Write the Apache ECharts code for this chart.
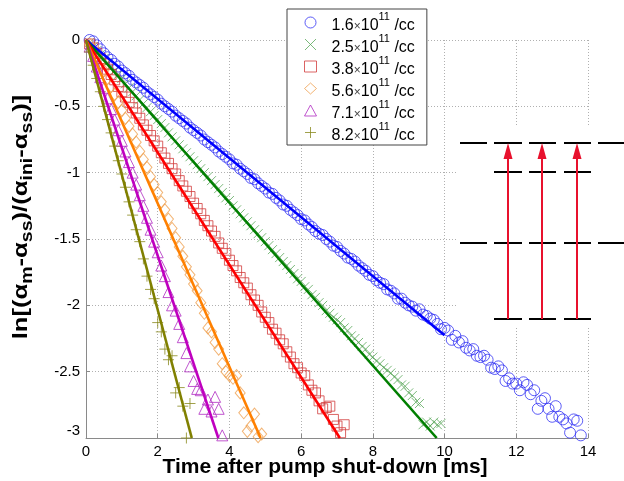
<!DOCTYPE html>
<html>
<head>
<meta charset="utf-8">
<script src="https://cdn.jsdelivr.net/npm/echarts@6/dist/echarts.min.js"></script>
<style>
  html, body { margin: 0; padding: 0; background: #ffffff; }
  #chart { width: 624px; height: 481px; }
</style>
</head>
<body>
<div id="chart"></div>
<script>
// Sampling times after pump shut-down [ms]
const timeMs = [
  0.1, 0.2, 0.3, 0.4, 0.5, 0.6, 0.7, 0.8, 0.9, 1.0,
  1.1, 1.2, 1.3, 1.4, 1.5, 1.6, 1.7, 1.8, 1.9, 2.0,
  2.1, 2.2, 2.3, 2.4, 2.5, 2.6, 2.7, 2.8, 2.9, 3.0,
  3.1, 3.2, 3.3, 3.4, 3.5, 3.6, 3.7, 3.8, 3.9, 4.0,
  4.1, 4.2, 4.3, 4.4, 4.5, 4.6, 4.7, 4.8, 4.9, 5.0,
  5.1, 5.2, 5.3, 5.4, 5.5, 5.6, 5.7, 5.8, 5.9, 6.0,
  6.1, 6.2, 6.3, 6.4, 6.5, 6.6, 6.7, 6.8, 6.9, 7.0,
  7.1, 7.2, 7.3, 7.4, 7.5, 7.6, 7.7, 7.8, 7.9, 8.0,
  8.1, 8.2, 8.3, 8.4, 8.5, 8.6, 8.7, 8.8, 8.9, 9.0,
  9.1, 9.2, 9.3, 9.4, 9.5, 9.6, 9.7, 9.8, 9.9, 10.0,
  10.1, 10.2, 10.3, 10.4, 10.5, 10.6, 10.7, 10.8, 10.9, 11.0,
  11.1, 11.2, 11.3, 11.4, 11.5, 11.6, 11.7, 11.8, 11.9, 12.0,
  12.1, 12.2, 12.3, 12.4, 12.5, 12.6, 12.7, 12.8, 12.9, 13.0,
  13.1, 13.2, 13.3, 13.4, 13.5, 13.6, 13.7, 13.8
];

// Density labels (mantissa of x10^11 /cc)
const densities = ['1.6', '2.5', '3.8', '5.6', '7.1', '8.2'];

// Measured ln[(a_m - a_ss)/(a_ini - a_ss)], one array per density
const decay16 = [
  0.00, -0.01, -0.04, -0.07, -0.10, -0.13, -0.15, -0.18, -0.20, -0.23,
  -0.25, -0.27, -0.30, -0.32, -0.34, -0.36, -0.39, -0.41, -0.43, -0.45,
  -0.48, -0.50, -0.52, -0.54, -0.57, -0.59, -0.61, -0.63, -0.66, -0.68,
  -0.70, -0.72, -0.75, -0.77, -0.79, -0.81, -0.84, -0.86, -0.88, -0.90,
  -0.93, -0.94, -0.97, -0.99, -1.01, -1.04, -1.05, -1.08, -1.10, -1.12,
  -1.15, -1.16, -1.19, -1.21, -1.24, -1.25, -1.28, -1.30, -1.32, -1.35,
  -1.36, -1.39, -1.41, -1.44, -1.46, -1.47, -1.50, -1.52, -1.55, -1.56,
  -1.59, -1.61, -1.64, -1.65, -1.67, -1.70, -1.72, -1.74, -1.77, -1.78,
  -1.81, -1.83, -1.84, -1.88, -1.89, -1.91, -1.95, -1.95, -1.98, -2.00,
  -2.01, -2.04, -2.03, -2.07, -2.08, -2.10, -2.11, -2.14, -2.18, -2.17,
  -2.19, -2.26, -2.23, -2.28, -2.27, -2.32, -2.34, -2.33, -2.38, -2.39,
  -2.38, -2.41, -2.47, -2.48, -2.46, -2.49, -2.57, -2.55, -2.59, -2.59,
  -2.64, -2.58, -2.60, -2.67, -2.64, -2.78, -2.72, -2.70, -2.78, -2.84,
  -2.76, -2.84, -2.86, -2.89, -2.96, -2.86, -2.87, -2.98
];
const decay25 = [
  -0.02, -0.05, -0.08, -0.11, -0.14, -0.17, -0.20, -0.23, -0.26, -0.29,
  -0.33, -0.36, -0.39, -0.42, -0.45, -0.48, -0.51, -0.54, -0.57, -0.60,
  -0.63, -0.66, -0.70, -0.73, -0.76, -0.79, -0.82, -0.85, -0.88, -0.91,
  -0.94, -0.97, -1.00, -1.03, -1.06, -1.09, -1.12, -1.15, -1.19, -1.21,
  -1.25, -1.28, -1.31, -1.34, -1.37, -1.40, -1.43, -1.46, -1.49, -1.52,
  -1.55, -1.58, -1.61, -1.64, -1.67, -1.70, -1.73, -1.76, -1.80, -1.82,
  -1.86, -1.88, -1.92, -1.94, -1.98, -2.00, -2.04, -2.06, -2.09, -2.11,
  -2.13, -2.17, -2.19, -2.23, -2.25, -2.28, -2.31, -2.33, -2.37, -2.39,
  -2.42, -2.44, -2.47, -2.49, -2.51, -2.54, -2.56, -2.60, -2.61, -2.66,
  -2.68, -2.73, -2.74, -2.90, -2.88, -2.91, -2.88, -2.90, -2.89
];
const decay38 = [
  -0.03, -0.06, -0.10, -0.14, -0.18, -0.22, -0.26, -0.30, -0.35, -0.39,
  -0.43, -0.47, -0.51, -0.55, -0.59, -0.64, -0.68, -0.72, -0.76, -0.80,
  -0.85, -0.89, -0.93, -0.97, -1.01, -1.06, -1.10, -1.14, -1.18, -1.23,
  -1.27, -1.31, -1.36, -1.40, -1.44, -1.48, -1.53, -1.57, -1.61, -1.66,
  -1.70, -1.74, -1.79, -1.83, -1.87, -1.92, -1.96, -2.00, -2.05, -2.09,
  -2.13, -2.18, -2.21, -2.26, -2.29, -2.35, -2.39, -2.44, -2.47, -2.51,
  -2.53, -2.60, -2.64, -2.66, -2.72, -2.78, -2.77, -2.76, -2.86, -2.91,
  -2.96, -2.90
];
const decay56 = [
  -0.03, -0.07, -0.12, -0.17, -0.23, -0.29, -0.35, -0.41, -0.47, -0.53,
  -0.59, -0.65, -0.71, -0.77, -0.84, -0.90, -0.96, -1.03, -1.09, -1.15,
  -1.22, -1.28, -1.35, -1.42, -1.49, -1.56, -1.63, -1.71, -1.77, -1.84,
  -1.89, -1.98, -2.06, -2.17, -2.20, -2.28, -2.33, -2.44, -2.50, -2.53,
  -2.55, -2.53, -2.66, -2.81, -2.95, -2.91, -2.82, -2.99, -2.97
];
const decay71 = [
  -0.05, -0.12, -0.20, -0.28, -0.36, -0.44, -0.52, -0.60, -0.68, -0.76,
  -0.84, -0.92, -1.00, -1.09, -1.17, -1.25, -1.34, -1.43, -1.52, -1.60,
  -1.70, -1.78, -1.90, -2.00, -2.04, -2.14, -2.24, -2.36, -2.46, -2.57,
  -2.63, -2.64, -2.78, -2.71, -2.80, -2.69, -2.78, -2.98
];
const decay82 = [
  -0.09, -0.19, -0.29, -0.39, -0.50, -0.60, -0.70, -0.80, -0.91, -1.01,
  -1.11, -1.22, -1.32, -1.43, -1.52, -1.65, -1.78, -1.88, -1.95, -2.13,
  -2.20, -2.33, -2.41, -2.38, -2.66, -2.62, -2.76, -3.00, -2.74
];

// Linear fits through the origin: end point [t, value] of each fitted line
const fitEnds = [
  [10.0, -2.226],
  [9.78, -3.0],
  [7.08, -3.0],
  [4.87, -3.0],
  [3.69, -3.0],
  [2.95, -3.0]
];

// Axis ticks
const xTicks = { min: 0, max: 14, step: 2 };
const yTicks = { min: -3, max: 0, step: 0.5 };

const measured = [decay16, decay25, decay38, decay56, decay71, decay82];

// Styling
const FONT = 'Liberation Sans, Arial, Helvetica, sans-serif';
const markerColors = ['#3434f4', '#5aa85a', '#d23c3c', '#efa050', '#b02cc2', '#8a8a1e'];
const lineColors = ['#0000ff', '#007f00', '#ff0000', '#ff8000', '#bf00bf', '#808000'];
const markerSymbols = [
  'circle',
  'path://M0,0L10,10M10,0L0,10',
  'rect',
  'diamond',
  'triangle',
  'path://M5,0L5,10M0,5L10,5'
];
const markerSizes = [11, 9, 10, [10, 12], 11, 11];

const scatterSeries = measured.map((vals, i) => ({
  name: densities[i],
  type: 'scatter',
  symbol: markerSymbols[i],
  symbolSize: markerSizes[i],
  data: vals.map((v, k) => [timeMs[k], v]),
  itemStyle: { color: 'rgba(0,0,0,0)', borderColor: markerColors[i], borderWidth: 1 },
  emphasis: { disabled: true },
  clip: false,
  z: 2
}));

const fitSeries = fitEnds.map((end, i) => ({
  name: 'fit-' + densities[i],
  type: 'line',
  data: [[0, 0], end],
  showSymbol: false,
  symbol: 'none',
  lineStyle: { color: lineColors[i], width: 2.6 },
  emphasis: { disabled: true },
  z: 3
}));

// Inset: three-level ladder with pump arrows
function ladderGraphic() {
  const els = [];
  els.push({ type: 'rect', shape: { x: 458, y: 127, width: 166, height: 200 },
             style: { fill: '#ffffff' }, z: 10 });
  const cols = [[460, 487], [494, 522], [529, 556], [564, 591], [598, 624]];
  const rows = [
    { y: 143, cols: [0, 1, 2, 3, 4] },
    { y: 172, cols: [1, 2, 3] },
    { y: 243, cols: [0, 1, 2, 3, 4] },
    { y: 319, cols: [1, 2, 3] }
  ];
  rows.forEach(r => r.cols.forEach(c => {
    els.push({ type: 'line', shape: { x1: cols[c][0], y1: r.y, x2: cols[c][1], y2: r.y },
               style: { stroke: '#000000', lineWidth: 2 }, z: 11 });
  }));
  [508, 542, 577].forEach(x => {
    els.push({ type: 'line', shape: { x1: x, y1: 319, x2: x, y2: 156 },
               style: { stroke: '#e8112d', lineWidth: 2 }, z: 12 });
    els.push({ type: 'polygon', shape: { points: [[x - 4.5, 159], [x + 4.5, 159], [x, 143]] },
               style: { fill: '#e8112d' }, z: 12 });
  });
  return els;
}

const chart = echarts.init(document.getElementById('chart'), null, { renderer: 'canvas' });

chart.setOption({
  animation: false,
  backgroundColor: '#ffffff',
  grid: { left: 86, right: 36, top: 40, bottom: 43, containLabel: false },
  xAxis: {
    type: 'value',
    min: xTicks.min, max: xTicks.max, interval: xTicks.step,
    axisLine: { onZero: false, lineStyle: { color: '#8a8a8a', width: 1 } },
    axisTick: { inside: true, length: 4, lineStyle: { color: '#8a8a8a' } },
    axisLabel: { color: '#000', fontSize: 15, fontFamily: FONT, margin: 6 },
    splitLine: { show: true, lineStyle: { color: '#b0b0b0', type: [1, 2], width: 1 } }
  },
  yAxis: {
    type: 'value',
    min: yTicks.min, max: yTicks.max, interval: yTicks.step,
    axisLine: { show: true, onZero: false, lineStyle: { color: '#8a8a8a', width: 1 } },
    axisTick: { show: true, inside: true, length: 4, lineStyle: { color: '#8a8a8a' } },
    axisLabel: {
      color: '#000', fontSize: 15, fontFamily: FONT, margin: 6,
      formatter: v => (v === yTicks.min ? '{lift|' + v + '}' : String(v)),
      rich: { lift: { fontSize: 15, fontFamily: FONT, color: '#000', padding: [0, 0, 14, 0] } }
    },
    splitLine: { show: true, lineStyle: { color: '#b0b0b0', type: [1, 2], width: 1 } }
  },
  legend: {
    data: densities,
    orient: 'vertical',
    left: 287, top: 9,
    padding: [2, 12, 1, 17],
    itemGap: -1,
    itemWidth: 12, itemHeight: 11,
    backgroundColor: '#ffffff',
    borderColor: '#444444', borderWidth: 1,
    selectedMode: false,
    itemStyle: { borderWidth: 1 },
    formatter: name => '{a|' + name + '}{x|×}{a|10}{s|11}{a| /cc}',
    textStyle: {
      fontFamily: FONT,
      padding: [0, 0, 0, 10],
      rich: {
        a: { fontSize: 16, fontFamily: FONT, color: '#000', lineHeight: 23, verticalAlign: 'bottom' },
        x: { fontSize: 12, fontFamily: FONT, color: '#444', lineHeight: 23, verticalAlign: 'bottom', padding: [0, 0, 1, 0] },
        s: { fontSize: 11, fontFamily: FONT, color: '#000', verticalAlign: 'top' }
      }
    },
    z: 20
  },
  graphic: [
    ...ladderGraphic(),
    {
      type: 'text', x: 325, y: 467, z: 20,
      style: {
        text: 'Time after pump shut-down [ms]',
        font: 'bold 21px ' + FONT, fill: '#000',
        align: 'center', verticalAlign: 'middle'
      }
    },
    {
      type: 'text', x: 23, y: 217, rotation: Math.PI / 2, scaleX: 1.22, z: 20,
      style: {
        text: '{b|ln[(α}{s|m}{b|-α}{s|ss}{b|)/(α}{s|ini}{b|-α}{s|ss}{b|)]}',
        align: 'center', verticalAlign: 'middle',
        rich: {
          b: { fontSize: 21, fontWeight: 'bold', fontFamily: FONT, fill: '#000', lineHeight: 25, verticalAlign: 'top' },
          s: { fontSize: 16, fontWeight: 'bold', fontFamily: FONT, fill: '#000', verticalAlign: 'bottom' }
        }
      }
    }
  ],
  series: [...scatterSeries, ...fitSeries]
});
</script>
</body>
</html>
